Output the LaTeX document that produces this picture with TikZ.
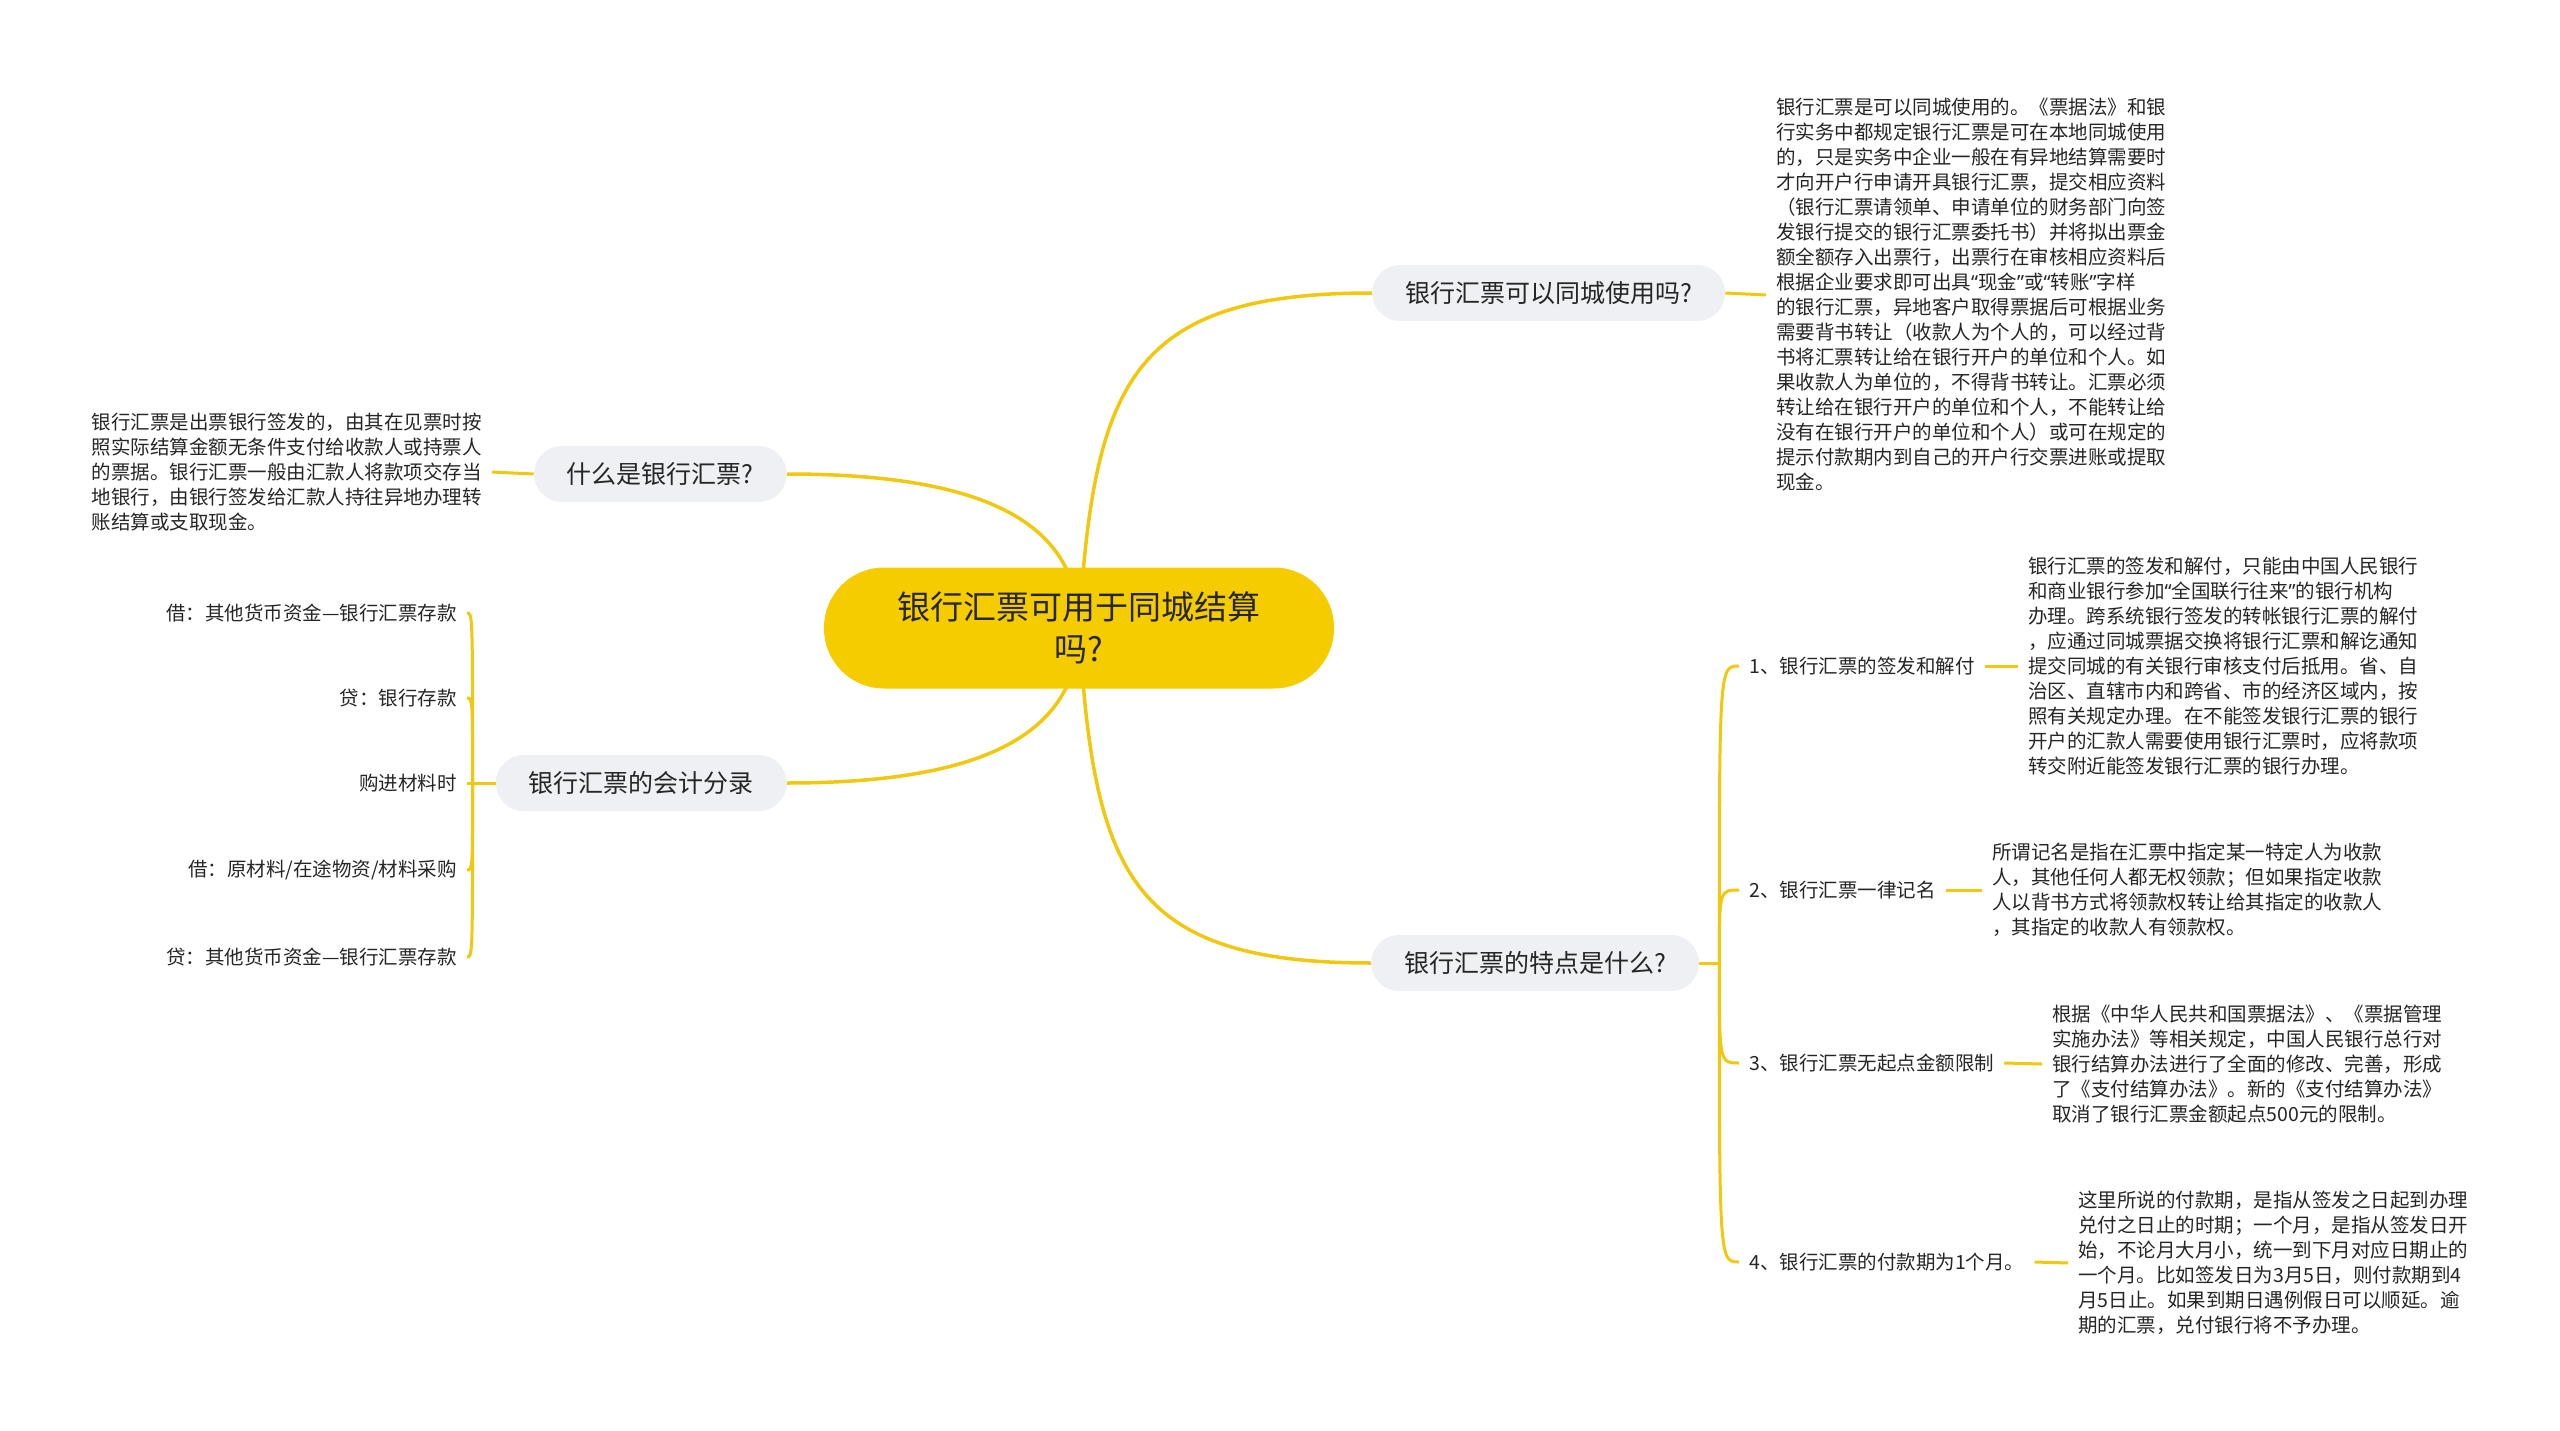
\documentclass[tikz,border=0pt]{standalone}
\usepackage{fontspec}
\setmainfont{Noto Sans CJK SC}
\newfontfamily\quotefont{Noto Sans}
\newcommand{\openq}{{\quotefont “}}
\newcommand{\closeq}{{\quotefont ”}}
\usetikzlibrary{backgrounds}
\definecolor{Gold}{HTML}{F5CC00}
\definecolor{Branch}{HTML}{F2C80F}
\definecolor{Cloud}{HTML}{EEF0F4}
\definecolor{Ink}{HTML}{262626}

\begin{document}
\begin{tikzpicture}[x=1pt,y=-1pt,
    hub/.style={fill=Gold,rounded corners=60pt,minimum width=510pt,minimum height=121pt,
      align=center,text=Ink,font=\fontsize{33}{42.5}\selectfont},
    topic/.style={fill=Cloud,rounded corners=28pt,minimum height=56pt,inner xsep=33pt,
      text=Ink,font=\fontsize{25}{30}\selectfont},
    leaf/.style={inner xsep=10pt,inner ysep=0pt,text=Ink,font=\fontsize{19.5}{25}\selectfont},
    para/.style={leaf,align=left},
    link/.style={Branch,line width=3.5pt},
    twig/.style={Branch,line width=3pt}]
  \useasboundingbox (0,0) rectangle (2560,1431);

  \node[hub] (hub) at (1079,628) {银行汇票可用于同城结算\\吗?};
  \node[topic,anchor=west] (use) at (1372,293) {银行汇票可以同城使用吗?};
  \node[topic,anchor=east] (what) at (787,474) {什么是银行汇票?};
  \node[topic,anchor=east] (acct) at (787,783) {银行汇票的会计分录};
  \node[topic,anchor=west] (feat) at (1371,963) {银行汇票的特点是什么?};

  \node[para,anchor=west] (usenote) at (1766,295)
    {银行汇票是可以同城使用的。《票据法》和银\\
     行实务中都规定银行汇票是可在本地同城使用\\
     的，只是实务中企业一般在有异地结算需要时\\
     才向开户行申请开具银行汇票，提交相应资料\\
     （银行汇票请领单、申请单位的财务部门向签\\
     发银行提交的银行汇票委托书）并将拟出票金\\
     额全额存入出票行，出票行在审核相应资料后\\
     根据企业要求即可出具\openq 现金\closeq 或\openq 转账\closeq 字样\\
     的银行汇票，异地客户取得票据后可根据业务\\
     需要背书转让（收款人为个人的，可以经过背\\
     书将汇票转让给在银行开户的单位和个人。如\\
     果收款人为单位的，不得背书转让。汇票必须\\
     转让给在银行开户的单位和个人，不能转让给\\
     没有在银行开户的单位和个人）或可在规定的\\
     提示付款期内到自己的开户行交票进账或提取\\
     现金。};
  \node[para,anchor=east] (whatnote) at (492,472)
    {银行汇票是出票银行签发的，由其在见票时按\\
     照实际结算金额无条件支付给收款人或持票人\\
     的票据。银行汇票一般由汇款人将款项交存当\\
     地银行，由银行签发给汇款人持往异地办理转\\
     账结算或支取现金。};

  \foreach \i/\y/\txt in {1/613/{借：其他货币资金—银行汇票存款},
      2/698/{贷：银行存款},3/783/{购进材料时},
      4/870/{借：原材料/在途物资/材料采购},
      5/957/{贷：其他货币资金—银行汇票存款}}
    \node[leaf,anchor=east] (a\i) at (467,\y) {\txt};

  \node[leaf,anchor=west] (f1) at (1739,666) {1、银行汇票的签发和解付};
  \node[leaf,anchor=west] (f2) at (1739,890) {2、银行汇票一律记名};
  \node[leaf,anchor=west] (f3) at (1739,1063) {3、银行汇票无起点金额限制};
  \node[leaf,anchor=west] (f4) at (1739,1262) {4、银行汇票的付款期为1个月。};

  \node[para,anchor=west] (fn1) at (2018,666)
    {银行汇票的签发和解付，只能由中国人民银行\\
     和商业银行参加\openq 全国联行往来\closeq 的银行机构\\
     办理。跨系统银行签发的转帐银行汇票的解付\\
     ，应通过同城票据交换将银行汇票和解讫通知\\
     提交同城的有关银行审核支付后抵用。省、自\\
     治区、直辖市内和跨省、市的经济区域内，按\\
     照有关规定办理。在不能签发银行汇票的银行\\
     开户的汇款人需要使用银行汇票时，应将款项\\
     转交附近能签发银行汇票的银行办理。};
  \node[para,anchor=west] (fn2) at (1982,890)
    {所谓记名是指在汇票中指定某一特定人为收款\\
     人，其他任何人都无权领款；但如果指定收款\\
     人以背书方式将领款权转让给其指定的收款人\\
     ，其指定的收款人有领款权。};
  \node[para,anchor=west] (fn3) at (2042,1064)
    {根据《中华人民共和国票据法》、《票据管理\\
     实施办法》等相关规定，中国人民银行总行对\\
     银行结算办法进行了全面的修改、完善，形成\\
     了《支付结算办法》。新的《支付结算办法》\\
     取消了银行汇票金额起点500元的限制。};
  \node[para,anchor=west] (fn4) at (2068,1263)
    {这里所说的付款期，是指从签发之日起到办理\\
     兑付之日止的时期；一个月，是指从签发日开\\
     始，不论月大月小，统一到下月对应日期止的\\
     一个月。比如签发日为3月5日，则付款期到4\\
     月5日止。如果到期日遇例假日可以顺延。逾\\
     期的汇票，兑付银行将不予办理。};

  \begin{scope}[on background layer]
    \fill[white] (0,0) rectangle (2560,1431);
    \draw[link] (hub.center) .. controls +(15,-245) and +(-242,0) .. (use.west);
    \draw[link] (hub.center) .. controls +(15,245) and +(-242,0) .. (feat.west);
    \draw[link] (hub.center) .. controls +(0,-108) and +(193,0) .. (what.east);
    \draw[link] (hub.center) .. controls +(0,108) and +(193,0) .. (acct.east);

    \draw[twig] (use.east) -- (usenote.west);
    \draw[twig] (what.west) -- (whatnote.east);
    \draw[twig] (acct.west) -- ++(-23,0) coordinate (aj);
    \foreach \i in {1,...,5}
      \draw[twig] (aj) .. controls (aj |- a\i) .. (a\i.east);
    \draw[twig] (feat.east) -- ++(20,0) coordinate (fj);
    \foreach \i in {1,...,4}{
      \draw[twig] (fj) .. controls (fj |- f\i) .. (f\i.west);
      \draw[twig] (f\i.east) -- (fn\i.west);
    }
  \end{scope}
\end{tikzpicture}
\end{document}
